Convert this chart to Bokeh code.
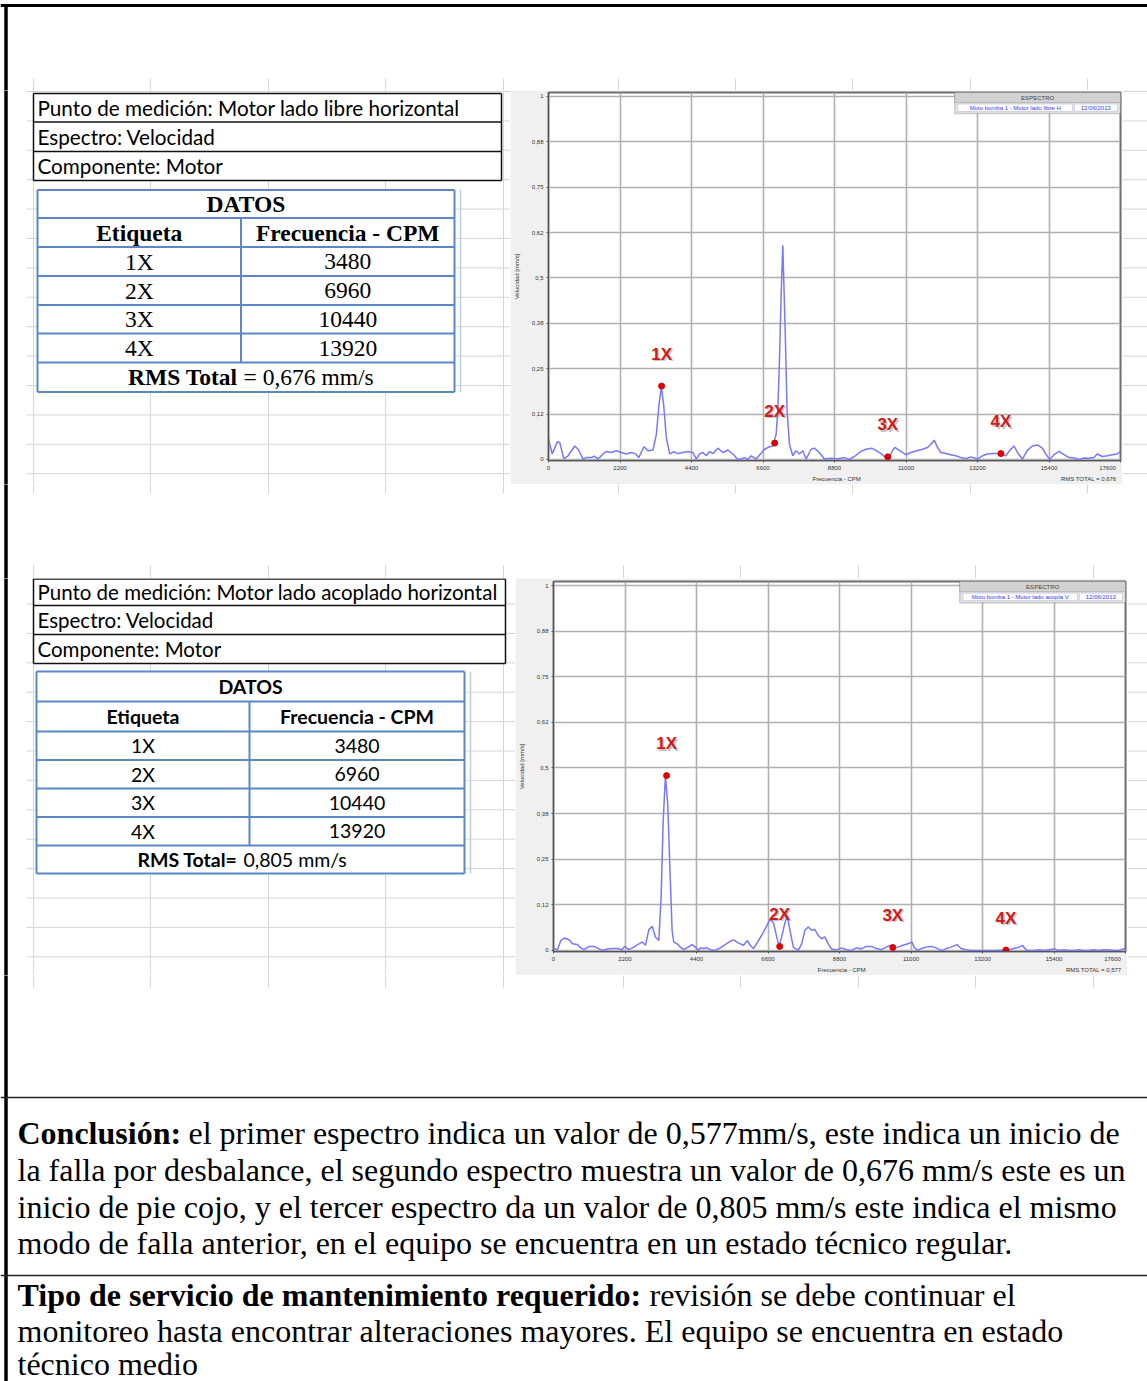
from bokeh.plotting import figure
from bokeh.models import Range1d, FixedTicker, BoxAnnotation, CustomJSTickFormatter
from bokeh.layouts import column, row
from bokeh.embed import file_html
from bokeh.resources import INLINE
from bokeh.core.properties import value

SERIF = "Liberation Serif"
SANS = "Lato"
ARIAL = "Liberation Sans"
NBSP = "\u00a0"

# ---------------- data ----------------
harmonic_labels = ["1X", "2X", "3X", "4X"]
harmonic_cpm = [3480, 6960, 10440, 13920]

info1 = ["Punto de medición: Motor lado libre horizontal", "Espectro: Velocidad", "Componente: Motor"]
info2 = ["Punto de medición: Motor lado acoplado horizontal", "Espectro: Velocidad", "Componente: Motor"]
table_title = "DATOS"
table_headers = ["Etiqueta", "Frecuencia - CPM"]
rms_table_1 = ["RMS Total", "= 0,676 mm/s"]
rms_table_2 = ["RMS Total=", "0,805  mm/s"]

x_ticks = [0, 2200, 4400, 6600, 8800, 11000, 13200, 15400, 17600]
y_ticks = [0, 0.125, 0.25, 0.375, 0.5, 0.625, 0.75, 0.875, 1.0]
y_tick_labels = ["0", "0,12", "0,25", "0,38", "0,5", "0,62", "0,75", "0,88", "1"]
x_axis_title = "Frecuencia - CPM"
y_axis_title = "Velocidad [mm/s]"

spec1_cpm = [0, 113, 276, 348, 471, 604, 707, 809, 911, 1065, 1167, 1321, 1403, 1526, 1679, 1782,
             1935, 2089, 2243, 2396, 2550, 2673, 2775, 2939, 3062, 3215, 3318, 3400, 3471, 3543,
             3625, 3727, 3850, 3984, 4137, 4291, 4445, 4547, 4649, 4752, 4854, 4956, 5059, 5213,
             5366, 5520, 5674, 5827, 5929, 6032, 6134, 6236, 6390, 6543, 6646, 6800, 6902, 7004,
             7055, 7106, 7158, 7209, 7281, 7342, 7414, 7516, 7618, 7721, 7823, 7926, 8079, 8182,
             8335, 8489, 8694, 8899, 9103, 9257, 9411, 9615, 9769, 9943, 10076, 10230, 10383,
             10486, 10588, 10660, 10793, 10998, 11151, 11336, 11510, 11663, 11766, 11868, 11971,
             12073, 12227, 12380, 12534, 12687, 12841, 12995, 13200, 13353, 13507, 13712, 13896,
             14070, 14223, 14326, 14428, 14582, 14735, 14889, 15043, 15196, 15299, 15422, 15554,
             15708, 15862, 16016, 16169, 16323, 16476, 16630, 16783, 16886, 17040, 17193, 17347,
             17500, 17600]
spec1_vel = [0.058, 0.015, 0.049, 0.046, 0.002, 0.010, 0.024, 0.037, 0.028, 0.001, 0.005, 0.005,
             0.009, 0.001, 0.015, 0.022, 0.019, 0.024, 0.019, 0.015, 0.019, 0.016, 0.005, 0.035,
             0.024, 0.026, 0.069, 0.151, 0.200, 0.151, 0.060, 0.015, 0.021, 0.016, 0.019, 0.022,
             0.019, 0.001, 0.015, 0.019, 0.010, 0.022, 0.016, 0.031, 0.019, 0.026, 0.015, 0.000,
             0.002, 0.005, 0.000, 0.010, 0.001, 0.017, 0.028, 0.035, 0.037, 0.069, 0.133, 0.270,
             0.450, 0.590, 0.360, 0.133, 0.042, 0.010, 0.024, 0.015, 0.024, 0.001, 0.028, 0.031,
             0.019, 0.001, 0.003, 0.001, 0.005, 0.000, 0.008, 0.022, 0.028, 0.031, 0.025, 0.016,
             0.005, 0.006, 0.025, 0.033, 0.025, 0.013, 0.019, 0.024, 0.028, 0.033, 0.042, 0.053,
             0.033, 0.019, 0.016, 0.013, 0.010, 0.005, 0.002, 0.007, 0.001, 0.010, 0.015, 0.016,
             0.016, 0.010, 0.028, 0.037, 0.019, 0.001, 0.025, 0.037, 0.040, 0.031, 0.015, 0.000,
             0.013, 0.022, 0.013, 0.005, 0.004, 0.000, 0.004, 0.003, 0.005, 0.015, 0.008, 0.010,
             0.013, 0.015, 0.022]
spec1_marker_vel = [0.202, 0.045, 0.007, 0.016]
spec1_legend = "Moto bomba 1 - Motor lado libre H"
spec1_rms = "RMS TOTAL = 0,676"

spec2_cpm = [0, 123, 225, 327, 480, 583, 736, 838, 940, 1094, 1247, 1400, 1502, 1656, 1809, 1962,
             2116, 2187, 2320, 2473, 2626, 2729, 2831, 2933, 3035, 3138, 3240, 3311, 3373, 3444,
             3516, 3598, 3649, 3700, 3802, 3904, 4007, 4108, 4262, 4363, 4467, 4516, 4620, 4722,
             4823, 4976, 5129, 5283, 5436, 5540, 5694, 5847, 5969, 6049, 6153, 6307, 6460, 6662,
             6767, 6868, 6938, 7021, 7122, 7196, 7276, 7380, 7533, 7634, 7736, 7840, 7941, 8042,
             8146, 8248, 8349, 8453, 8554, 8707, 8861, 9014, 9167, 9321, 9474, 9627, 9781, 9934,
             10087, 10240, 10342, 10445, 10598, 10752, 10905, 11028, 11109, 11212, 11314, 11467,
             11620, 11773, 11875, 11978, 12080, 12233, 12417, 12540, 12693, 12847, 13051, 13255,
             13408, 13613, 13868, 14021, 14175, 14328, 14431, 14533, 14635, 14788, 14941, 15094,
             15248, 15401, 15554, 15708, 15861, 16014, 16168, 16321, 16474, 16627, 16781, 16934,
             17087, 17240, 17394, 17547, 17600]
spec2_vel = [0.005, 0.002, 0.027, 0.034, 0.029, 0.018, 0.016, 0.007, 0.002, 0.011, 0.011, 0.004,
             0.000, 0.004, 0.005, 0.005, 0.002, 0.011, 0.002, 0.009, 0.018, 0.023, 0.014, 0.057,
             0.066, 0.037, 0.027, 0.146, 0.350, 0.479, 0.400, 0.183, 0.055, 0.023, 0.018, 0.009,
             0.002, 0.007, 0.016, 0.009, 0.000, 0.007, 0.005, 0.007, 0.002, 0.000, 0.007, 0.016,
             0.025, 0.029, 0.020, 0.014, 0.027, 0.014, 0.005, 0.027, 0.050, 0.085, 0.076, 0.037,
             0.011, 0.037, 0.076, 0.095, 0.055, 0.009, 0.000, 0.018, 0.055, 0.064, 0.055, 0.057,
             0.041, 0.032, 0.037, 0.018, 0.004, 0.001, 0.007, 0.002, 0.000, 0.007, 0.004, 0.011,
             0.011, 0.005, 0.002, 0.009, 0.013, 0.007, 0.009, 0.014, 0.018, 0.023, 0.007, 0.000,
             0.005, 0.009, 0.011, 0.007, 0.002, 0.000, 0.005, 0.009, 0.016, 0.005, 0.002, 0.000,
             0.000, 0.000, 0.000, 0.000, 0.001, 0.002, 0.005, 0.009, 0.014, 0.002, 0.000, 0.000,
             0.002, 0.000, 0.002, 0.004, 0.000, 0.002, 0.000, 0.000, 0.002, 0.000, 0.000, 0.002,
             0.000, 0.002, 0.002, 0.000, 0.000, 0.004, 0.008]
spec2_marker_vel = [0.479, 0.011, 0.008, 0.001]
spec2_legend = "Moto bomba 1 - Motor lado acopla V"
spec2_rms = "RMS TOTAL = 0,577"
legend_title = "ESPECTRO"
legend_date = "12/06/2013"

conclusion_head = "Conclusión:"
conclusion_lines = [
    "el primer espectro indica un valor de 0,577mm/s, este indica un inicio de",
    "la falla por desbalance, el segundo espectro muestra un valor de 0,676 mm/s este es un",
    "inicio de pie cojo, y el tercer espectro da un valor de 0,805 mm/s este indica el mismo",
    "modo de falla anterior, en el equipo se encuentra en un estado técnico regular.",
]
service_head = "Tipo de servicio de mantenimiento requerido:"
service_lines = [
    "revisión se debe continuar el",
    "monitoreo hasta encontrar alteraciones mayores. El equipo se encuentra en estado",
    "técnico medio",
]

# ---------------- styles ----------------
GRID_C = "#d6d6d6"
TABLE_BLUE = "#5b87c8"
LEFT_GRID_X = [33, 150, 268, 385, 503]
RIGHT_GRID_X1 = [618, 735, 852, 970, 1087]
RIGHT_GRID_X2 = [623, 740, 858, 975, 1093]
ROW_H = 29.4
BORDER_X = 5.5


def no_align(p):
    try:
        p.frame_align = False
    except Exception:
        pass
    return p


def canvas(x0, x1, y0, y1):
    p = figure(width=int(x1 - x0), height=int(y1 - y0), x_range=Range1d(x0, x1),
               y_range=Range1d(y1, y0), x_axis_location=None, y_axis_location=None,
               output_backend="svg", toolbar_location=None, min_border=0)
    p.grid.visible = False
    p.outline_line_color = None
    p.background_fill_color = "white"
    p.border_fill_color = "white"
    return no_align(p)


def vlines(p, xs, y0, y1, color=GRID_C, width=1):
    p.segment(x0=xs, y0=[y0] * len(xs), x1=xs, y1=[y1] * len(xs), line_color=color, line_width=width)


def hlines(p, ys, x0, x1, color=GRID_C, width=1):
    p.segment(x0=[x0] * len(ys), y0=ys, x1=[x1] * len(ys), y1=ys, line_color=color, line_width=width)


def left_border(p, y0, y1):
    p.segment(x0=[BORDER_X], y0=[y0 - 1], x1=[BORDER_X], y1=[y1 + 1], line_color="black", line_width=3.5)


def txt(p, xs, ys, texts, font, size, bold=False, align="left", color="black"):
    p.text(x=xs, y=ys, text=texts, text_font=value(font), text_font_size=value(size),
           text_font_style="bold" if bold else "normal", text_align=align,
           text_baseline="middle", text_color=color)


def draw_info(p, lines, x0, x1, edges, size):
    p.quad(left=[x0], right=[x1], top=[edges[0]], bottom=[edges[-1]], fill_color="white", line_color=None)
    hlines(p, edges, x0, x1, color="#111111", width=1.5)
    vlines(p, [x0, x1], edges[0], edges[-1], color="#111111", width=1.5)
    centers = [(a + b) / 2 for a, b in zip(edges[:-1], edges[1:])]
    txt(p, [x0 + 4] * len(lines), centers, lines, SANS, size)


def draw_table(p, x0, xm, x1, edges, font, size, rms, rms_split):
    p.quad(left=[x0], right=[x1], top=[edges[0]], bottom=[edges[-1]], fill_color="white", line_color=None)
    hlines(p, edges, x0, x1, color=TABLE_BLUE, width=2)
    vlines(p, [x0, x1], edges[0], edges[-1], color=TABLE_BLUE, width=2)
    vlines(p, [xm], edges[1], edges[-2], color=TABLE_BLUE, width=2)
    vlines(p, [x1 + 6], edges[0], edges[-1], color="#b9cbe6", width=1.5)
    c = [(a + b) / 2 for a, b in zip(edges[:-1], edges[1:])]
    cx = (x0 + x1) / 2
    c1 = (x0 + xm) / 2
    c2 = (xm + x1) / 2
    txt(p, [cx], [c[0]], [table_title], font, size, bold=True, align="center")
    txt(p, [c1, c2], [c[1], c[1]], table_headers, font, size, bold=True, align="center")
    n = len(harmonic_labels)
    txt(p, [c1] * n, c[2:2 + n], harmonic_labels, font, size, align="center")
    txt(p, [c2] * n, c[2:2 + n], [str(f) for f in harmonic_cpm], font, size, align="center")
    txt(p, [rms_split - 3], [c[-1]], [rms[0]], font, size, bold=True, align="right")
    txt(p, [rms_split + 3], [c[-1]], [rms[1]], font, size, align="left")


def spectrum(cpm, vel, marker_vel, legend_text, rms_text, width, height, mbl, mbr, mbt, mbb):
    p = figure(width=width, height=height, x_range=Range1d(0, 17600), y_range=Range1d(-0.003, 1.011),
               output_backend="svg", toolbar_location=None,
               min_border_left=mbl, min_border_right=mbr, min_border_top=mbt, min_border_bottom=mbb)
    no_align(p)
    p.border_fill_color = "#f0f0f0"
    p.background_fill_color = "white"
    p.outline_line_color = "#6e6e6e"
    p.outline_line_width = 2
    p.xaxis.ticker = FixedTicker(ticks=x_ticks)
    p.yaxis.ticker = FixedTicker(ticks=y_ticks)
    p.yaxis.formatter = CustomJSTickFormatter(args=dict(tvals=y_ticks, tlabels=y_tick_labels), code="""
        for (let i = 0; i < tvals.length; i++) { if (Math.abs(tvals[i] - tick) < 1e-9) return tlabels[i]; }
        return '';
    """)
    p.xaxis.formatter = CustomJSTickFormatter(args=dict(xmax=x_ticks[-1], pad=NBSP * 4), code="""
        return (Math.abs(tick - xmax) < 1e-6) ? String(tick) + pad : String(tick);
    """)
    # axis title centred under the frame, with the RMS total at the right end of the same line
    pad = NBSP * 156
    gap = NBSP * 120
    p.xaxis.axis_label = pad + x_axis_title + gap + rms_text
    p.yaxis.axis_label = y_axis_title
    for ax in p.axis:
        ax.major_label_text_font = ARIAL
        ax.major_label_text_font_size = "6px"
        ax.major_label_text_color = "#333333"
        ax.axis_label_text_font = ARIAL
        ax.axis_label_text_font_size = "6px"
        ax.axis_label_text_font_style = "normal"
        ax.axis_label_text_color = "#333333"
        ax.axis_line_color = "#555555"
        ax.major_tick_line_color = "#555555"
        ax.major_tick_out = 2
        ax.major_tick_in = 0
        ax.minor_tick_line_color = None
    p.xaxis.major_label_standoff = 2
    p.xaxis.axis_label_standoff = 2
    p.yaxis.major_label_standoff = 3
    p.yaxis.axis_label_standoff = 9
    p.grid.grid_line_color = "#b0b0b0"
    p.grid.grid_line_width = 1.6

    p.line(cpm, vel, line_color="#7777ff", line_width=1.5)
    p.scatter(harmonic_cpm, marker_vel, size=6, fill_color="#e00000", line_color="#e00000")
    p.text(x=harmonic_cpm, y=marker_vel, text=harmonic_labels, x_offset=1.5, y_offset=-30.5,
           text_font=value(ARIAL), text_font_size=value("17px"), text_font_style="bold",
           text_align="center", text_baseline="middle", text_color="#888888", text_alpha=0.5)
    p.text(x=harmonic_cpm, y=marker_vel, text=harmonic_labels, y_offset=-32,
           text_font=value(ARIAL), text_font_size=value("17px"), text_font_style="bold",
           text_align="center", text_baseline="middle", text_color="#d11a1a")

    # legend box (top right), drawn beneath the glyph layer so its texts stay visible
    boxes = [
        dict(left=12500, right=17600, bottom=0.953, top=1.011, fill_color="#e6e6e6", line_color="#666666", line_width=1.5),
        dict(left=12500, right=17600, bottom=0.983, top=1.011, fill_color="#d2d2d2", line_color="#666666", line_width=1),
        dict(left=12600, right=16120, bottom=0.959, top=0.979, fill_color="white", line_color="#8a8ac8", line_width=1),
        dict(left=16180, right=17500, bottom=0.959, top=0.979, fill_color="white", line_color="#8a8ac8", line_width=1),
    ]
    for b in boxes:
        p.add_layout(BoxAnnotation(level="underlay", fill_alpha=1, **b))
    p.text(x=[15050], y=[0.997], text=[legend_title], text_font=value(ARIAL), text_font_size=value("6px"),
           text_align="center", text_baseline="middle", text_color="#444444")
    p.text(x=[14360, 16840], y=[0.969, 0.969], text=[legend_text, legend_date], text_font=value(ARIAL),
           text_font_size=value("6px"), text_align="center", text_baseline="middle", text_color="#3535ff")
    return p


# ---------------- region A: top ----------------
pa = canvas(0, 1147, 0, 90)
hlines(pa, [5], 0, 1147, color="black", width=3)
left_border(pa, 4.5, 90)
vlines(pa, LEFT_GRID_X + RIGHT_GRID_X1, 78, 90)

# ---------------- region B ----------------
pb_left = canvas(0, 510, 90, 484)
hlines(pb_left, [91 + ROW_H * k for k in range(14)], 26, 510)
vlines(pb_left, LEFT_GRID_X, 90, 484)
left_border(pb_left, 90, 484)
draw_info(pb_left, info1, 33, 501, [93, 121.5, 151, 180], "20.7px")
draw_table(pb_left, 37, 240.5, 454, [189.5, 217.5, 246.5, 275.5, 304.5, 333, 362, 391.5],
           SERIF, "23.5px", rms_table_1, 240)

spec1 = spectrum(spec1_cpm, spec1_vel, spec1_marker_vel, spec1_legend, spec1_rms, 612, 394, 37, 2, 2, 21)

pb_strip = canvas(1122, 1147, 90, 484)
hlines(pb_strip, [91 + ROW_H * k for k in range(14)], 1122, 1147)

# ---------------- region C ----------------
pc = canvas(0, 1147, 484, 578)
left_border(pc, 484, 578)
vlines(pc, LEFT_GRID_X + RIGHT_GRID_X1, 484, 493)
vlines(pc, LEFT_GRID_X + RIGHT_GRID_X2, 565, 578)

# ---------------- region D ----------------
pd_left = canvas(0, 515, 578, 975)
hlines(pd_left, [603.5 + ROW_H * k for k in range(13)], 26, 515)
vlines(pd_left, LEFT_GRID_X, 578, 975)
left_border(pd_left, 578, 975)
draw_info(pd_left, info2, 33, 505, [578.5, 605, 634, 663], "20.5px")
draw_table(pd_left, 36, 249, 464, [671, 701, 731, 759.5, 788, 816.5, 845, 873],
           SANS, "19.5px", rms_table_2, 240)

spec2 = spectrum(spec2_cpm, spec2_vel, spec2_marker_vel, spec2_legend, spec2_rms, 612, 397, 36, 2, 3, 24)

pd_strip = canvas(1127, 1147, 578, 975)
hlines(pd_strip, [603.5 + ROW_H * k for k in range(13)], 1127, 1147)

# ---------------- region E: text ----------------
pe = canvas(0, 1147, 975, 1381)
left_border(pe, 975, 1381)
vlines(pe, LEFT_GRID_X + RIGHT_GRID_X2, 975, 987)
hlines(pe, [1097, 1275], 0, 1147, color="#222222", width=1.5)
txt(pe, [17], [1132], [conclusion_head], SERIF, "32px", bold=True)
txt(pe, [188, 17, 17, 17], [1132, 1169, 1206, 1242], conclusion_lines, SERIF, "32px")
txt(pe, [17], [1294], [service_head], SERIF, "32px", bold=True)
txt(pe, [649, 17, 17], [1294, 1330, 1363], service_lines, SERIF, "32px")

layout = column(
    pa,
    row(pb_left, spec1, pb_strip),
    pc,
    row(pd_left, spec2, pd_strip),
    pe,
)

open("out.html", "w").write(file_html(layout, INLINE))
